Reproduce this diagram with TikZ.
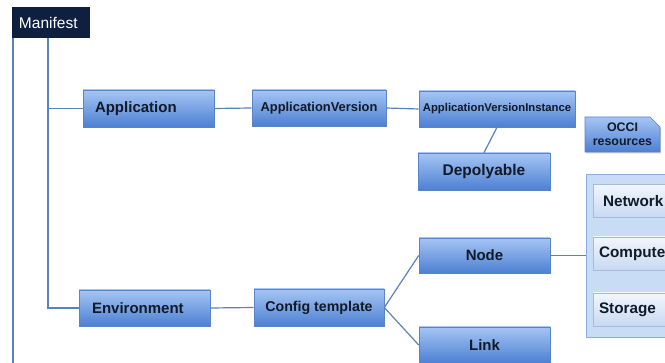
\documentclass[tikz,border=0pt]{standalone}
\usepackage{fontspec}
\setmainfont{Liberation Sans}
\usetikzlibrary{shapes.misc,shadows}
\definecolor{boxtop}{HTML}{A6C5F4}
\definecolor{boxbot}{HTML}{4C80D2}
\definecolor{boxline}{HTML}{5A84C8}
\definecolor{conn}{HTML}{5C80B8}
\definecolor{navy}{HTML}{0E1F40}
\definecolor{contfill}{HTML}{C9DCF6}
\definecolor{contline}{HTML}{8DAEDF}
\definecolor{innertop}{HTML}{F2F6FD}
\definecolor{innerbot}{HTML}{C8D9F2}
\definecolor{innerline}{HTML}{A3BBDF}
\definecolor{txt}{HTML}{111A28}
\begin{document}
\begin{tikzpicture}[x=1pt,y=-1pt,
  bluebox/.style={rectangle, draw=boxline, line width=0.6pt, top color=boxtop, bottom color=boxbot,
    text=txt, font=\bfseries\fontsize{15}{17}\selectfont, inner sep=0pt,
    drop shadow={shadow xshift=1.2pt, shadow yshift=-1.5pt, opacity=0.25, fill=black!70}},
  innerbox/.style={rectangle, draw=innerline, line width=0.6pt, top color=innertop, bottom color=innerbot,
    text=txt, font=\bfseries\fontsize{15.3}{17}\selectfont, inner ysep=0pt, align=left,
    minimum width=77pt, minimum height=33pt},
  link/.style={draw=conn, line width=1.2pt}]
\useasboundingbox (0,0) rectangle (665,363);
\clip (0,0) rectangle (665,363);

% Manifest
\node[rectangle, fill=navy, text=white, font=\fontsize{15.5}{17}\selectfont,
  minimum width=78pt, minimum height=31pt, inner xsep=7pt, text width=64pt, align=left, inner ysep=0pt]
  (manifest) at (51,22.5) {Manifest};

% Application row
\node[bluebox, minimum width=131pt, minimum height=37pt, inner xsep=12pt, text width=107pt, align=left]
  (app) at (148.5,108.5) {Application};
\node[bluebox, minimum width=134pt, minimum height=36pt, font=\bfseries\fontsize{12.9}{14}\selectfont]
  (appv) at (319,108) {ApplicationVersion};
\node[bluebox, minimum width=156pt, minimum height=36pt, font=\bfseries\fontsize{11.3}{13}\selectfont]
  (avi) at (497,109) {ApplicationVersionInstance};
\node[bluebox, minimum width=132pt, minimum height=37pt, font=\bfseries\fontsize{15.5}{17}\selectfont]
  (dep) at (484,171.5) {Depolyable};

% OCCI resources
\node[chamfered rectangle, chamfered rectangle corners=north east, chamfered rectangle sep=5pt,
  draw=boxline, line width=0.6pt, top color=boxtop, bottom color=boxbot, text=txt,
  font=\bfseries\fontsize{12.4}{14}\selectfont, align=center, inner sep=0pt,
  minimum width=75pt, minimum height=35pt,
  drop shadow={shadow xshift=1.2pt, shadow yshift=-1.5pt, opacity=0.25, fill=black!70}]
  (occi) at (622.5,134.5) {OCCI\\resources};

% Container
\node[rectangle, draw=contline, line width=0.8pt, fill=contfill, minimum width=84pt, minimum height=163pt,
  inner sep=0pt, drop shadow={shadow xshift=1.2pt, shadow yshift=-1.5pt, opacity=0.2, fill=black!60}]
  (cont) at (628,255.5) {};
\node[innerbox, inner xsep=10pt, text width=57pt] (network) at (631.5,201) {Network};
\node[innerbox, inner xsep=6pt, text width=65pt] (compute) at (631.5,253.5) {Compute};
\node[innerbox, inner xsep=6pt, text width=65pt] (storage) at (631.5,309.5) {Storage};

% Environment row
\node[bluebox, minimum width=131pt, minimum height=36pt, inner xsep=13pt, text width=105pt, align=left]
  (env) at (144.5,308) {Environment};
\node[bluebox, minimum width=130pt, minimum height=37pt, font=\bfseries\fontsize{14.2}{16}\selectfont]
  (cfg) at (319,307.5) {Config template};
\node[bluebox, minimum width=131pt, minimum height=35pt] (node) at (484.5,255.5) {Node};
\node[bluebox, minimum width=131pt, minimum height=36pt] (lnk) at (484.5,345) {Link};

% connectors
\coordinate (v1) at (13,363);
\coordinate (v2) at (48,0);
\draw[link] (manifest.south west -| v1) -- (v1);
\draw[link] (manifest.south -| v2) |- (env.west);
\draw[link] (app.west -| v2) -- (app.west);
\draw[link] (app.east) -- (appv.west);
\draw[link] (appv.east) -- (avi.west);
\draw[link] (avi.south) -- (dep.north);
\draw[link] (env.east) -- (cfg.west);
\draw[link] (cfg.east) -- (node.west);
\draw[link] (cfg.east) -- (lnk.west);
\draw[link] (node.east) -- (cont.west);
\end{tikzpicture}
\end{document}
